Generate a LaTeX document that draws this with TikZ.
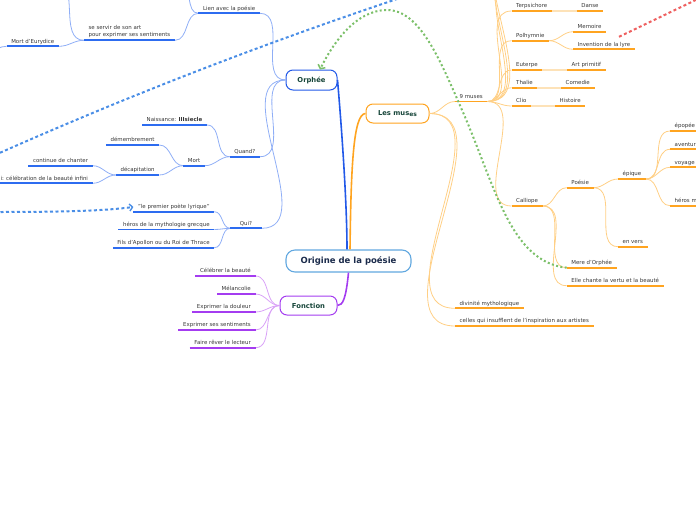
\documentclass[tikz,border=0pt]{standalone}
\usepackage{fontspec}
\setmainfont{DejaVu Sans}
\usetikzlibrary{arrows.meta}
\definecolor{ubl}{HTML}{2D6CF0}
\definecolor{cbl}{HTML}{8FAEF6}
\definecolor{uor}{HTML}{FFA420}
\definecolor{cor}{HTML}{FFCF85}
\definecolor{lor}{HTML}{FDE2B8}
\definecolor{upu}{HTML}{A43CF0}
\definecolor{cpu}{HTML}{D9A2F7}
\definecolor{txt}{HTML}{363636}
\definecolor{dgr}{HTML}{17463A}
\definecolor{navy}{HTML}{1B2B4B}
\definecolor{rootb}{HTML}{62A8E0}
\definecolor{obl}{HTML}{2259E8}
\definecolor{dotb}{HTML}{4A8EE6}
\definecolor{dotg}{HTML}{7CC06A}
\definecolor{dotr}{HTML}{EE6060}
\begin{document}
\begin{tikzpicture}[x=1pt,y=-1pt,
  topic/.style={font=\fontsize{5.45}{7}\selectfont, text=txt, inner xsep=4.5pt, inner ysep=2pt, text height=4pt, text depth=1.1pt},
  tl/.style={topic, anchor=south east},
  tr/.style={topic, anchor=south west},
  mainn/.style={draw, fill=white, line width=1pt, rounded corners=7pt, font=\bfseries\fontsize{6.8}{8}\selectfont, text=dgr, inner sep=0pt},
  ulB/.style={draw=ubl, line width=1.8pt},
  ulO/.style={draw=uor, line width=1.8pt},
  ulP/.style={draw=upu, line width=1.8pt},
  cB/.style={draw=cbl, line width=0.8pt},
  cO/.style={draw=cor, line width=0.8pt},
  cP/.style={draw=cpu, line width=0.8pt},
  lO/.style={draw=lor, line width=1.8pt},
  dotsB/.style={draw=dotb, line width=2pt, dash pattern=on 3pt off 2.5pt},
  dotsR/.style={draw=dotr, line width=2pt, dash pattern=on 3pt off 2.5pt},
  dotsG/.style={draw=dotg, line width=2pt, dash pattern=on 2pt off 2.4pt},
]
\useasboundingbox (0,0) rectangle (696,520);

% main nodes
\node[draw=rootb, fill=white, line width=1.1pt, rounded corners=9pt, minimum width=125pt, minimum height=22pt, inner sep=0pt, font=\bfseries\fontsize{8.5}{10}\selectfont, text=navy] (root) at (348.5,261) {Origine de la poésie};
\node[mainn, draw=obl, minimum width=51pt, minimum height=20pt] (orphee) at (311.5,80) {Orphée};
\node[mainn, draw=uor, minimum width=63pt, minimum height=19pt] (muses) at (397.5,113.5) {Les mus\raisebox{-1.3pt}{\fontsize{6}{7}\selectfont es}};
\node[mainn, draw=upu, minimum width=57pt, minimum height=19pt] (fonction) at (308.5,305.5) {Fonction};

% main connectors
\draw[draw=obl, line width=1.6pt] (orphee.east) .. controls (341,120) and (347,200) .. ([xshift=-1.5pt]root.north);
\draw[draw=uor, line width=1.6pt] ([xshift=1.5pt]root.north) .. controls (351,170) and (353,113.5) .. (muses.west);
\draw[draw=upu, line width=1.6pt] (root.south) .. controls (346,298) and (343,305.5) .. (fonction.east);

% Orphee tree
\node[tl] (lien) at (260,13.3) {Lien avec la poésie};
\node[topic, anchor=south east, align=left, text height=, text depth=, font=\fontsize{5.45}{7.2}\selectfont] (servir) at (175,40.3) {se servir de son art\\pour exprimer ses sentiments};
\node[tl] (eury) at (59,46.3) {Mort d'Eurydice};
\node[tl] (quand) at (260,156.7) {Quand?};
\node[tl] (naiss) at (207,125) {Naissance: \textbf{IIIsiecle}};
\node[tl] (mort) at (205,165.7) {Mort};
\node[tl] (demem) at (159.3,145) {démembrement};
\node[tl] (decap) at (159.3,175) {décapitation};
\node[tl] (cont) at (92.7,165.7) {continue de chanter};
\node[tl] (celeb) at (92.7,183.3) {i: célébration de la beauté infini};
\node[tl, minimum width=31pt] (qui) at (261.7,228.3) {Qui?};
\node[tl] (prem) at (214.3,211.7) {"le premier poète lyrique"};
\node[tl] (heros) at (214.3,229.5) {héros de la mythologie grecque};
\node[tl] (fils) at (214.3,247.7) {Fils d'Apollon ou du Roi de Thrace};
\coordinate (offA) at (180,-15);
\coordinate (offB) at (55,-20);
\coordinate (offC) at (-10,50);

\draw[cB] (orphee.west) to[out=180,in=0] (lien.south east);
\draw[cB] (orphee.west) to[out=180,in=0] (quand.south east);
\draw[cB] (orphee.west) to[out=180,in=0] (qui.south east);
\draw[cB] (lien.south west) to[out=180,in=0] (offA);
\draw[cB] (lien.south west) to[out=180,in=0] (servir.south east);
\draw[cB] (servir.south west) to[out=180,in=0] (offB);
\draw[cB] (servir.south west) to[out=180,in=0] (eury.south east);
\draw[cB] (eury.south west) to[out=180,in=0] (offC);
\draw[cB] (quand.south west) to[out=180,in=0] (naiss.south east);
\draw[cB] (quand.south west) to[out=180,in=0] (mort.south east);
\draw[cB] (mort.south west) to[out=180,in=0] (demem.south east);
\draw[cB] (mort.south west) to[out=180,in=0] (decap.south east);
\draw[cB] (decap.south west) to[out=180,in=0] (cont.south east);
\draw[cB] (decap.south west) to[out=180,in=0] (celeb.south east);
\draw[cB] (qui.south west) to[out=180,in=0] (prem.south east);
\draw[cB] (qui.south west) to[out=180,in=0] (heros.south east);
\draw[cB] (qui.south west) to[out=180,in=0] (fils.south east);
\foreach \n in {lien,servir,eury,quand,naiss,mort,demem,decap,cont,celeb,qui,prem,heros,fils}
  \draw[ulB] (\n.south west) -- (\n.south east);

% Fonction tree
\node[tl] (f1) at (255.5,276) {Célébrer la beauté};
\node[tl] (f2) at (255.5,294) {Mélancolie};
\node[tl] (f3) at (255.5,312) {Exprimer la douleur};
\node[tl] (f4) at (255.5,330) {Exprimer ses sentiments};
\node[tl] (f5) at (255.5,347.7) {Faire rêver le lecteur};
\foreach \n in {f1,f2,f3,f4,f5}{
  \draw[cP] (fonction.west) to[out=180,in=0] (\n.south east);
  \draw[ulP] (\n.south west) -- (\n.south east);
}

% Les muses tree
\node[tr] (nine) at (455,101.5) {9 muses};
\node[tr] (divin) at (455,308.3) {divinité mythologique};
\node[tr] (celles) at (455,326) {celles qui insufflent de l'inspiration aux artistes};
\node[tr] (terp) at (511.5,11) {Terpsichore};
\node[tr] (danse) at (576.7,11) {Danse};
\node[tr] (poly) at (511.5,40.7) {Polhymnie};
\node[tr] (memo) at (573,31.7) {Memoire};
\node[tr] (inv) at (573,49.3) {Invention de la lyre};
\node[tr] (eut) at (511.5,70) {Euterpe};
\node[tr] (art) at (567,70) {Art primitif};
\node[tr] (thal) at (511.5,87.7) {Thalie};
\node[tr] (com) at (561,87.7) {Comedie};
\node[tr] (clio) at (511.5,106) {Clio};
\node[tr] (hist) at (555,106) {Histoire};
\node[tr] (call) at (511.5,206) {Calliope};
\node[tr] (poes) at (566.7,187.7) {Poésie};
\node[tr] (mere) at (566.7,267.7) {Mere d'Orphée};
\node[tr] (elle) at (566.7,285.7) {Elle chante la vertu et la beauté};
\node[tr] (epique) at (618,179) {épique};
\node[tr] (envers) at (618,246.7) {en vers};
\node[tr] (epop) at (670,131) {épopée};
\node[tr] (avent) at (670,149.3) {aventur};
\node[tr] (voy) at (670,167.3) {voyage};
\node[tr] (herm) at (670,205.7) {héros m};
\coordinate (offD) at (514,-22);
\coordinate (offE) at (514,-42);
\coordinate (offF) at (514,-62);

\draw[cO] (muses.east) to[out=0,in=180] (nine.south west);
\draw[cO] (muses.east) to[out=0,in=180] (divin.south west);
\draw[cO] (muses.east) to[out=0,in=180] (celles.south west);
\foreach \n in {offD,offE,offF}
  \draw[cO] (nine.south east) to[out=0,in=180] (\n);
\foreach \n in {terp,poly,eut,thal,clio,call}
  \draw[cO] (nine.south east) to[out=0,in=180] (\n.south west);
\draw[lO] (terp.south east) -- (danse.south west);
\draw[lO] (eut.south east) -- (art.south west);
\draw[lO] (thal.south east) -- (com.south west);
\draw[lO] (clio.south east) -- (hist.south west);
\draw[cO] (poly.south east) to[out=0,in=180] (memo.south west);
\draw[cO] (poly.south east) to[out=0,in=180] (inv.south west);
\draw[cO] (call.south east) to[out=0,in=180] (poes.south west);
\draw[cO] (call.south east) to[out=0,in=180] (mere.south west);
\draw[cO] (call.south east) to[out=0,in=180] (elle.south west);
\draw[cO] (poes.south east) to[out=0,in=180] (epique.south west);
\draw[cO] (poes.south east) to[out=0,in=180] (envers.south west);
\foreach \n in {epop,avent,voy,herm}
  \draw[cO] (epique.south east) to[out=0,in=180] (\n.south west);
\foreach \n in {nine,divin,celles,terp,danse,poly,memo,inv,eut,art,thal,com,clio,hist,call,poes,mere,elle,epique,envers,epop,avent,voy,herm}
  \draw[ulO] (\n.south west) -- (\n.south east);

% dotted relations
\coordinate (d1a) at (-5,155);
\coordinate (d1b) at (400,-2);
\coordinate (d2a) at (-5,212);
\coordinate (r2) at (702,-3);
\draw[dotsB] (d1a) .. controls (130,95) and (260,45) .. (d1b);
\draw[dotsB, -{Straight Barb[length=3pt,width=7pt,line width=1.4pt]}] (d2a) .. controls (80,212) and (110,210) .. (prem.west);
\draw[dotsR] ([xshift=-16pt,yshift=3pt]inv.north east) -- (r2);
\draw[dotsG, -{Straight Barb[length=3pt,width=8pt,line width=1.5pt]}] (mere.south west) .. controls (510,262) and (495,185) .. (462,110) .. controls (440,60) and (420,10) .. (387,10) .. controls (355,10) and (332,45) .. ([xshift=8.5pt]orphee.north);
\end{tikzpicture}
\end{document}
